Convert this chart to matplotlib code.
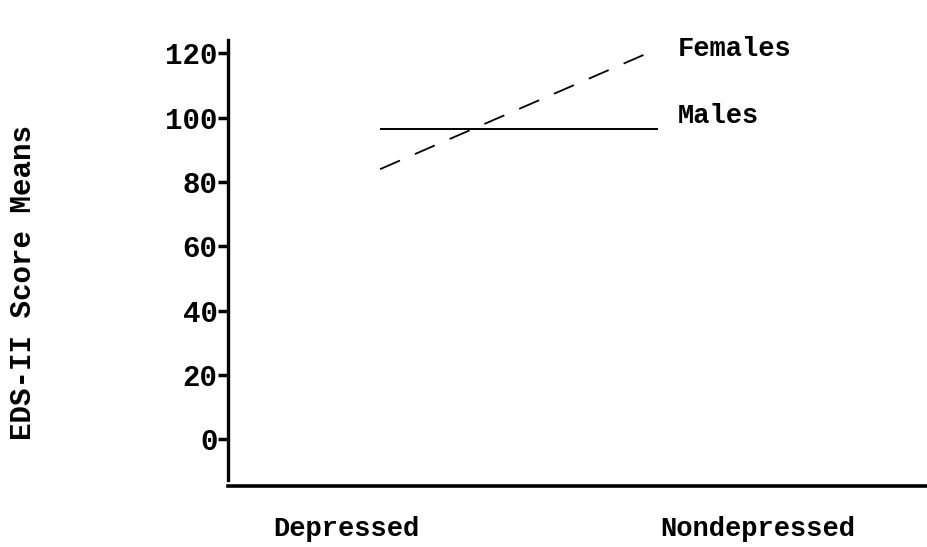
import matplotlib
matplotlib.use("Agg")
import matplotlib.pyplot as plt

groups = ["Depressed", "Nondepressed"]
females = [84, 121.5]
males = [96.5, 96.5]
yticks = [0, 20, 40, 60, 80, 100, 120]

plt.rcParams['font.family'] = ['Liberation Mono', 'DejaVu Sans Mono']
plt.rcParams['font.weight'] = 'bold'
fs = 19.5

fig = plt.figure(figsize=(9.28, 5.47), dpi=100)
ax = fig.add_axes([0.2457, 0.1115, 0.7543, 0.8154])

x = [0, 1]
ax.plot(x, males, color='black', lw=1.4, solid_capstyle='butt')
ax.plot(x, females, color='black', lw=1.3, dashes=(12, 9))

ax.text(1.07, females[1], "Females", fontsize=fs, va='center', ha='left')
ax.text(1.07, males[1] + 4, "Males", fontsize=fs, va='center', ha='left')

ax.set_xlim(-0.547, 1.971)
ax.set_ylim(-14.6, 124.2)
ax.set_yticks(yticks)
ax.set_yticklabels([str(v) for v in yticks], fontsize=21)
ax.tick_params(axis='y', direction='out', length=7, width=2.5, pad=0.5)
ax.set_xticks([])

for s in ['top', 'right']:
    ax.spines[s].set_visible(False)
ax.spines['left'].set_linewidth(2.4)
ax.spines['left'].set_bounds(-12.8, 124.2)
ax.spines['bottom'].set_linewidth(2.6)

# category labels sit outside the line span
ax.text(-0.12, -28, groups[0], fontsize=fs, ha='center', va='center', clip_on=False)
ax.text(1.36, -28, groups[1], fontsize=fs, ha='center', va='center', clip_on=False)

fig.text(23 / 928, 1 - 282 / 547, "EDS-II Score Means", fontsize=21,
         rotation=90, ha='center', va='center')

fig.savefig("out.png", dpi=100)
